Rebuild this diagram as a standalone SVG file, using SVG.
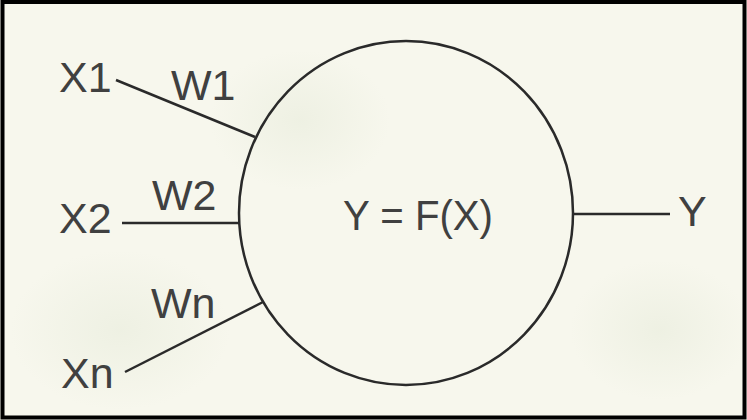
<svg xmlns="http://www.w3.org/2000/svg" width="747" height="420" viewBox="0 0 747 420">
  <style>
    .lbl { font-family: "Liberation Sans", Arial, sans-serif; font-size: 43px; fill: #404040; }
    .wire { stroke: #2a2a2a; stroke-width: 2.5; fill: none; }
  </style>
  <defs>
    <radialGradient id="blob" cx="0.5" cy="0.5" r="0.5">
      <stop offset="0" stop-color="#e8ecdc" stop-opacity="0.6"/>
      <stop offset="1" stop-color="#e8ecdc" stop-opacity="0"/>
    </radialGradient>
  </defs>
  <rect x="0" y="0" width="747" height="420" fill="#f7f7ed"/>
  <ellipse cx="120" cy="330" rx="110" ry="80" fill="url(#blob)"/>
  <ellipse cx="660" cy="330" rx="90" ry="70" fill="url(#blob)"/>
  <ellipse cx="300" cy="120" rx="90" ry="70" fill="url(#blob)"/>
  <rect x="2.5" y="2" width="742" height="415.5" fill="none" stroke="#000" stroke-width="4"/>
  <g id="neuron">
    <ellipse cx="406" cy="213" rx="167" ry="172" class="wire"/>
    <text class="lbl" x="343" y="230" textLength="150" lengthAdjust="spacingAndGlyphs">Y = F(X)</text>
  </g>
  <g id="x1"><text class="lbl" x="59" y="92">X1</text></g>
  <g id="x2"><text class="lbl" x="59" y="233">X2</text></g>
  <g id="xn"><text class="lbl" x="61" y="388">Xn</text></g>
  <g id="y"><text class="lbl" x="678" y="226">Y</text></g>
  <g id="connectors">
    <line class="wire" x1="116" y1="80" x2="255" y2="137"/>
    <line class="wire" x1="122" y1="223" x2="240" y2="223"/>
    <line class="wire" x1="125" y1="372" x2="263" y2="302"/>
    <line class="wire" x1="573" y1="214" x2="670" y2="214"/>
    <text class="lbl" x="171" y="100">W1</text>
    <text class="lbl" x="152" y="210">W2</text>
    <text class="lbl" x="151" y="318">Wn</text>
  </g>
</svg>
